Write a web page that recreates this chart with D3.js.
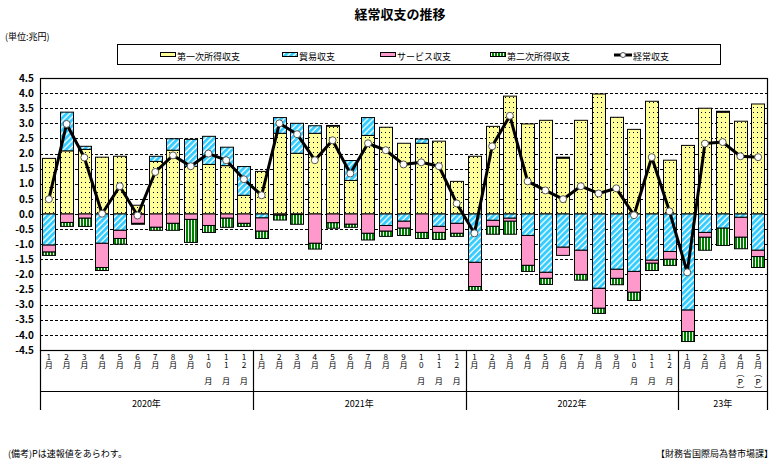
<!DOCTYPE html>
<html><head><meta charset="utf-8">
<script src="https://cdn.jsdelivr.net/npm/d3@7"></script>
<style>
body{margin:0;background:#fff}
text{font-family:"Noto Sans CJK JP","Liberation Sans",sans-serif;fill:#000}
.vt{writing-mode:vertical-rl;text-orientation:upright}
</style>
</head><body><svg id="c" width="780" height="470"></svg>
<script>
// ---------------- data ----------------
const months = ["1月","2月","3月","4月","5月","6月","7月","8月","9月","10月","11月","12月",
  "1月","2月","3月","4月","5月","6月","7月","8月","9月","10月","11月","12月",
  "1月","2月","3月","4月","5月","6月","7月","8月","9月","10月","11月","12月",
  "1月","2月","3月","4月（P）","5月（P）"];
const yearLabels = ["2020年","2021年","2022年","23年"];
const yearCounts = [12,12,12,5];
const seriesNames = ["第一次所得収支","貿易収支","サービス収支","第二次所得収支"];
const lineName = "経常収支";
const primary = [1.84,2.09,2.14,1.88,1.91,0.29,1.74,2.11,1.58,1.64,1.60,0.62,
  1.41,2.67,2.01,2.67,2.91,1.11,2.60,2.87,2.34,2.34,2.41,1.08,
  1.91,2.90,3.90,2.98,3.10,1.85,3.10,3.97,3.20,2.80,3.73,1.78,
  2.27,3.50,3.37,3.07,3.64];
const trade = [-1.03,1.28,0.10,-0.97,-0.54,-0.01,0.17,0.38,0.89,0.93,0.61,0.95,
  -0.13,0.52,0.99,0.25,0.02,0.66,0.59,-0.38,-0.24,0.14,-0.41,-0.31,
  -1.60,-0.21,-0.14,-0.71,-1.93,-1.10,-1.20,-2.46,-1.83,-1.90,-1.53,-1.24,
  -3.18,-0.61,-0.47,-0.11,-1.20];
const services = [-0.23,-0.28,-0.14,-0.80,-0.27,-0.30,-0.44,-0.31,-0.18,-0.38,-0.14,-0.31,
  -0.44,-0.04,-0.02,-0.97,-0.29,-0.34,-0.64,-0.19,-0.23,-0.61,-0.20,-0.33,
  -0.80,-0.20,-0.10,-0.99,-0.20,-0.27,-0.80,-0.66,-0.30,-0.69,-0.10,-0.26,
  -0.71,-0.16,0.03,-0.66,-0.21];
const secondary = [-0.11,-0.13,-0.27,-0.10,-0.19,-0.03,-0.10,-0.23,-0.76,-0.23,-0.30,-0.10,
  -0.24,-0.16,-0.32,-0.19,-0.18,-0.10,-0.22,-0.17,-0.24,-0.20,-0.23,-0.10,
  -0.13,-0.26,-0.43,-0.20,-0.20,0.03,-0.19,-0.17,-0.21,-0.27,-0.24,-0.20,
  -0.33,-0.43,-0.57,-0.38,-0.36];
const current = [0.49,2.98,1.87,0.01,0.92,-0.05,1.39,1.94,1.58,2.00,1.78,1.15,
  0.62,3.00,2.64,1.78,2.44,1.34,2.34,2.11,1.64,1.71,1.58,0.35,
  -0.64,2.24,3.25,1.08,0.78,0.49,0.92,0.68,0.85,-0.04,1.88,0.09,
  -1.93,2.33,2.38,1.91,1.88];
const yTicks = [4.5,4.0,3.5,3.0,2.5,2.0,1.5,1.0,0.5,0.0,-0.5,-1.0,-1.5,-2.0,-2.5,-3.0,-3.5,-4.0,-4.5];

// ---------------- layout ----------------
const svg = d3.select("#c");
const L = 40, R = 767, T = 78, B = 350;
const keys = ["primary","trade","services","secondary"];
const fills = ["url(#pDots)","url(#pStripe)","#FF99CC","url(#pGreen)"];
const rows = months.map((m,i)=>({i, m, primary:primary[i], trade:trade[i], services:services[i], secondary:secondary[i]}));
const x = d3.scaleBand().domain(d3.range(months.length)).range([L,R]).paddingInner(0.25).paddingOuter(0.125);
const y = d3.scaleLinear().domain([-4.5,4.5]).range([B,T]);

// patterns
const defs = svg.append("defs");
const pd = defs.append("pattern").attr("id","pDots").attr("patternUnits","userSpaceOnUse").attr("width",4).attr("height",5);
pd.append("rect").attr("width",4).attr("height",5).attr("fill","#FFFF99");
pd.append("rect").attr("x",1).attr("y",2).attr("width",1).attr("height",1).attr("fill","#000");
const ps = defs.append("pattern").attr("id","pStripe").attr("patternUnits","userSpaceOnUse").attr("width",4.2).attr("height",4.2).attr("patternTransform","rotate(45)");
ps.append("rect").attr("width",4.2).attr("height",4.2).attr("fill","#fff");
ps.append("rect").attr("width",2.9).attr("height",4.2).attr("fill","#33CCFF");
const pg = defs.append("pattern").attr("id","pGreen").attr("patternUnits","userSpaceOnUse").attr("width",3).attr("height",3);
pg.append("rect").attr("width",3).attr("height",3).attr("fill","#fff");
pg.append("rect").attr("width",2).attr("height",3).attr("fill","#008000");

// title etc.
svg.append("text").attr("x",400).attr("y",19).attr("text-anchor","middle").attr("font-size",13).attr("font-weight","bold").text("経常収支の推移");
svg.append("text").attr("x",5).attr("y",40).attr("font-size",9).text("(単位:兆円)");
svg.append("text").attr("x",8).attr("y",457).attr("font-size",9).text("(備考)Pは速報値をあらわす。");
svg.append("text").attr("x",773).attr("y",457).attr("text-anchor","end").attr("font-size",9).text("【財務省国際局為替市場課】");

// legend
svg.append("rect").attr("x",117.5).attr("y",44.5).attr("width",603).attr("height",20).attr("fill","#fff").attr("stroke","#000");
const legX = [160,282,380,490];
seriesNames.forEach((n,k)=>{
  svg.append("rect").attr("x",legX[k]+0.5).attr("y",52.5).attr("width",15).attr("height",4).attr("fill",fills[k]).attr("stroke","#000").attr("stroke-width",1);
  svg.append("text").attr("x",legX[k]+17).attr("y",58).attr("font-size",9).attr("dominant-baseline","middle").text(n);
});
svg.append("line").attr("x1",614).attr("x2",632).attr("y1",55).attr("y2",55).attr("stroke","#000").attr("stroke-width",3);
svg.append("circle").attr("cx",623).attr("cy",55).attr("r",2.5).attr("fill","#fff").attr("stroke","#555");
svg.append("text").attr("x",633).attr("y",58).attr("font-size",9).attr("dominant-baseline","middle").text(lineName);

// grid
svg.append("g").selectAll("line").data(yTicks.filter(v=>Math.abs(v)<4.5)).join("line")
  .attr("x1",L).attr("x2",R).attr("y1",d=>Math.round(y(d))+0.5).attr("y2",d=>Math.round(y(d))+0.5)
  .attr("stroke","#000").attr("stroke-width",1).attr("stroke-dasharray","3,2");

// y axis labels
const yAxis = d3.axisLeft(y).tickValues(yTicks).tickFormat(d=>d.toFixed(1)).tickSize(0).tickPadding(6);
const ya = svg.append("g").attr("transform",`translate(${L},0)`).call(yAxis);
ya.select(".domain").remove();
ya.selectAll("text").attr("font-size",10).attr("font-family","Liberation Sans, Arial, sans-serif").attr("font-weight","bold").attr("fill","#000");

// bars
const stacked = d3.stack().keys(keys).offset(d3.stackOffsetDiverging)(rows);
stacked.forEach((s,k)=>{
  svg.append("g").selectAll("rect").data(s).join("rect")
    .attr("x",d=>Math.round(x(d.data.i))+0.5)
    .attr("width",Math.round(x.bandwidth()))
    .attr("y",d=>y(Math.max(d[0],d[1])))
    .attr("height",d=>Math.abs(y(d[0])-y(d[1])))
    .attr("fill",fills[k]).attr("stroke","#000").attr("stroke-width",1);
});

// line
const cx = i=>x(i)+x.bandwidth()/2;
svg.append("path").datum(current).attr("fill","none").attr("stroke","#000").attr("stroke-width",3).attr("stroke-linejoin","round")
  .attr("d",d3.line().x((d,i)=>cx(i)).y(d=>y(d)));
svg.append("g").selectAll("circle").data(current).join("circle")
  .attr("cx",(d,i)=>cx(i)).attr("cy",d=>y(d)).attr("r",3.5).attr("fill","#fff").attr("stroke","#555").attr("stroke-width",1);

// plot frame
svg.append("rect").attr("x",L+0.5).attr("y",T+0.5).attr("width",R-L).attr("height",B-T).attr("fill","none").attr("stroke","#000").attr("stroke-width",1.2);

// x axis labels (vertical text, one text element per month)
months.forEach((m,i)=>{
  const mt = m.match(/^(\d+)(.*)$/);
  const t = svg.append("text").attr("class","vt").attr("x",cx(i)).attr("y",353).attr("font-size",8.2);
  t.append("tspan").text(mt[1]);
  t.append("tspan").attr("dy",mt[1].length>1?8:0).text(mt[2]);
});

// year boundaries
let acc = 0;
const bounds = [0];
yearCounts.forEach(c=>{acc+=c; bounds.push(acc);});
bounds.forEach((b,j)=>{
  const xx = b===0 ? L : (b>=months.length ? R : (x(b-1)+x.bandwidth()+x(b))/2);
  svg.append("line").attr("x1",Math.round(xx)+0.5).attr("x2",Math.round(xx)+0.5).attr("y1",B).attr("y2",410).attr("stroke","#000").attr("stroke-width",1.2);
});
svg.append("line").attr("x1",L).attr("x2",R).attr("y1",391.5).attr("y2",391.5).attr("stroke","#000");
yearLabels.forEach((t,j)=>{
  const a = bounds[j], b = bounds[j+1];
  const xa = a===0?L:(x(a-1)+x.bandwidth()+x(a))/2;
  const xb = b>=months.length?R:(x(b-1)+x.bandwidth()+x(b))/2;
  svg.append("text").attr("x",(xa+xb)/2).attr("y",403).attr("text-anchor","middle").attr("dominant-baseline","central").attr("font-size",9).text(t);
});
</script></body></html>
